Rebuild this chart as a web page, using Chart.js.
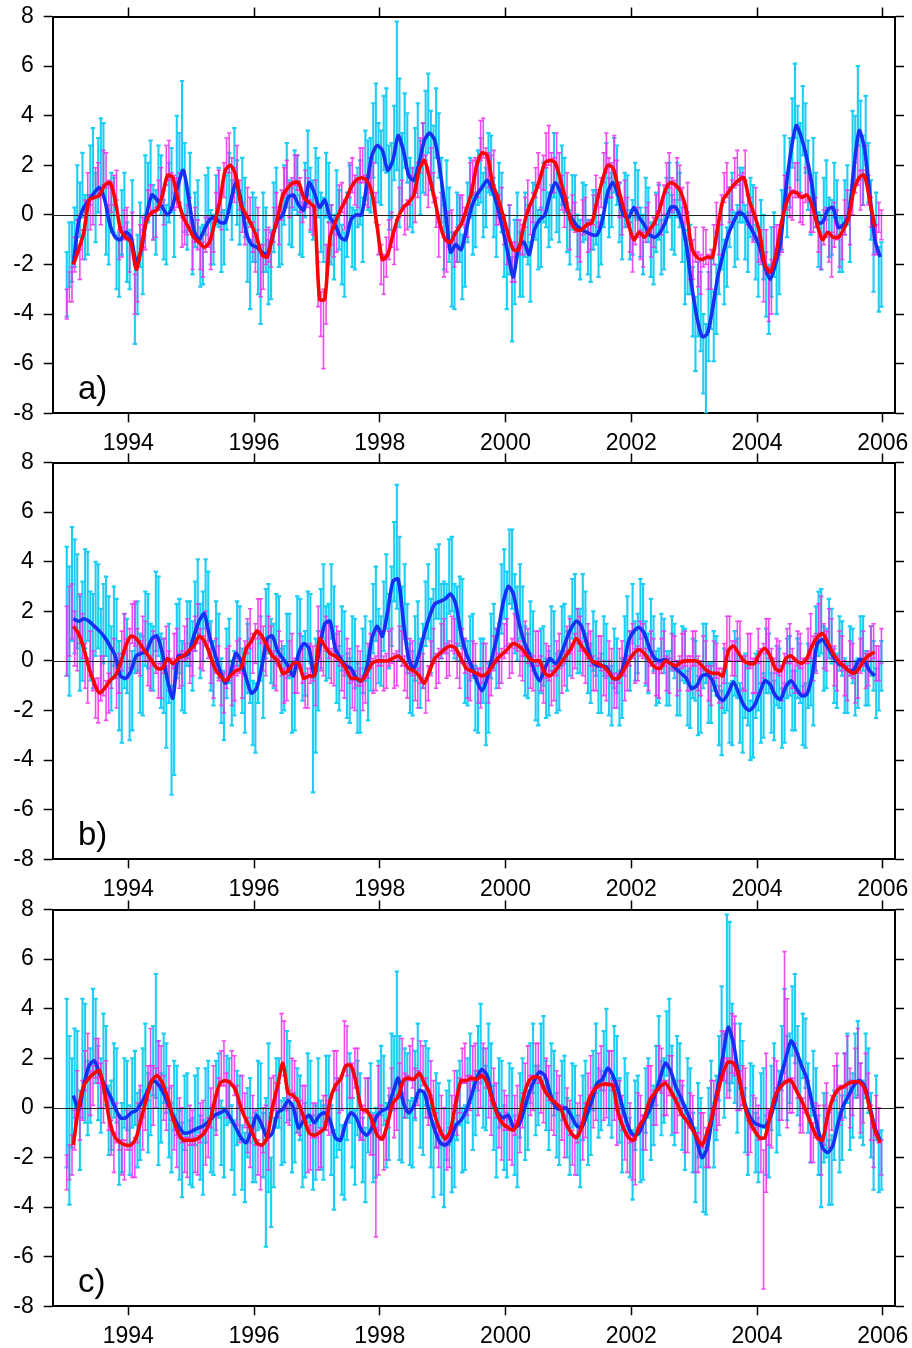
<!DOCTYPE html>
<html>
<head>
<meta charset="utf-8">
<script src="https://cdn.jsdelivr.net/npm/chart.js@4.4.1/dist/chart.umd.min.js"></script>
<style>
  body { margin: 0; background: #fff; }
  canvas { position: absolute; left: 0; }
</style>
</head>
<body>
<canvas id="pa" width="912" height="462" style="top:0px"></canvas>
<canvas id="pb" width="912" height="462" style="top:446px"></canvas>
<canvas id="pc" width="912" height="455" style="top:893px"></canvas>
<script>
// values per month, Jan 1993 .. Dec 2005 (12 per row).
// noisy series: "A" = first half of the month, "B" = second half
const tickYears = [1994, 1996, 1998, 2000, 2002, 2004, 2006];
const yTicks = [-8, -6, -4, -2, 0, 2, 4, 6, 8];

// ---- panel a ----
const aBlue = [
  null,-2.0,-0.3,0.3,0.6,0.9,1.1,0.6,-0.4,-0.9,-1.0,-0.7,
  -0.9,-1.9,-1.4,0.0,0.8,0.6,0.3,0.0,0.4,1.2,1.8,0.7,
  -0.6,-1.0,-0.6,-0.2,-0.1,-0.3,-0.3,0.5,1.3,0.6,-0.7,-1.2,
  -1.3,-1.5,-1.6,-0.9,-0.2,0.0,0.7,0.8,0.4,0.2,1.3,0.9,
  0.3,0.6,-0.1,-0.4,-0.9,-1.0,-0.2,0.0,0.0,1.2,2.4,2.8,
  2.6,1.8,2.2,3.2,2.6,1.6,1.4,2.1,3.0,3.3,3.0,1.8,
  0.2,-1.5,-1.2,-1.4,-0.6,0.3,0.8,1.1,1.4,1.0,0.3,-0.6,
  -1.6,-2.5,-1.3,-1.1,-1.6,-0.6,-0.2,0.0,0.8,1.3,0.9,0.3,
  -0.1,-0.4,-0.6,-0.7,-0.8,-0.8,-0.2,0.9,1.3,0.8,0.0,-0.1,
  0.3,-0.1,-0.4,-0.8,-0.9,-0.7,-0.3,0.3,0.3,-0.2,-1.2,-2.8,
  -4.1,-4.9,-4.8,-3.8,-2.5,-1.6,-0.8,-0.3,0.1,0.0,-0.4,-0.8,
  -1.3,-2.1,-2.6,-2.0,-1.1,1.0,2.6,3.6,3.1,2.3,1.2,-0.3,
  -0.3,0.2,0.3,-0.5,-0.4,0.0,1.9,3.4,2.7,0.9,-1.0,-1.7];
const aRed = [
  null,-2.0,-1.4,-0.7,0.6,0.7,0.8,1.2,1.3,0.6,-0.6,-0.9,
  -1.1,-2.2,-1.3,-0.2,0.1,0.2,0.8,1.6,1.5,0.6,-0.1,-0.5,
  -0.9,-1.1,-1.3,-1.1,-0.3,0.6,1.8,2.0,1.6,0.4,0.0,-0.4,
  -0.9,-1.6,-1.7,-0.9,-0.1,0.8,1.1,1.3,1.3,0.7,0.5,0.3,
  -3.4,-3.4,-0.9,-0.3,0.2,0.6,1.1,1.4,1.5,1.4,0.9,-0.5,
  -1.8,-1.6,-0.8,-0.1,0.3,0.5,0.8,1.8,2.2,1.5,0.6,-0.4,
  -1.0,-1.1,-0.7,-0.4,0.2,0.9,2.0,2.5,2.4,1.3,0.7,0.0,
  -0.8,-1.4,-1.4,-0.4,0.3,0.8,1.4,2.1,2.2,2.1,1.4,0.6,
  -0.3,-0.6,-0.6,-0.4,-0.3,0.6,1.4,2.0,1.9,1.1,0.3,-0.4,
  -1.0,-0.7,-0.9,-0.6,-0.3,0.3,1.0,1.3,1.2,0.9,0.2,-1.3,
  -1.7,-1.8,-1.7,-1.7,-0.5,0.6,0.9,1.2,1.4,1.5,0.6,0.0,
  -0.7,-2.0,-2.3,-1.7,-0.5,0.4,0.9,0.9,0.7,0.8,0.4,-0.4,
  -1.0,-0.7,-0.9,-0.9,-0.6,-0.1,1.0,1.5,1.6,0.6,-0.5,null];
const aCyanA = [
  -2.8,-1.5,0.9,1.2,-0.4,2.1,1.6,2.3,-0.8,0.4,-2.0,0.5,
  -1.8,-3.6,-0.8,1.2,1.9,-0.3,1.2,-0.8,1.4,2.6,3.6,-0.2,
  -1.3,0.2,-1.6,0.8,-1.0,0.7,-0.9,1.3,2.2,-0.1,0.3,-2.4,
  -0.6,-2.8,-1.0,-2.0,0.7,-0.8,1.6,-0.1,1.2,-0.6,2.1,0.2,
  1.1,-0.6,0.9,-1.3,-0.2,-2.0,0.8,-1.0,0.9,2.0,1.6,3.7,
  1.9,3.4,1.4,4.8,1.8,2.7,0.6,3.0,2.3,4.1,2.2,2.8,
  -0.9,-0.4,-2.4,-0.6,-1.7,1.1,-0.2,1.8,0.7,2.0,-0.6,0.5,
  -2.4,-3.4,-0.4,-2.0,-0.8,0.2,-1.0,0.9,-0.2,2.0,0.1,1.2,
  -0.9,0.5,-1.4,0.1,-1.5,-0.1,-1.0,1.7,0.6,1.6,-0.7,0.6,
  -0.5,0.8,-1.2,0.0,-1.6,0.1,-1.1,1.0,-0.5,0.6,-2.3,-1.8,
  -4.8,-3.9,-6.2,-3.2,-3.4,-0.9,-1.7,0.6,-0.7,0.8,-1.1,0.1,
  -2.1,-1.3,-3.4,-1.2,-2.0,1.9,1.7,4.6,2.3,3.1,0.4,0.6,
  -1.1,1.0,-0.5,0.3,-1.2,0.8,2.8,4.4,1.8,1.7,-1.9,-2.6];
const aCyanB = [
  -1.6,-0.9,0.2,-0.5,1.6,0.3,2.4,-0.2,0.5,-1.9,-0.3,-1.5,
  0.2,-2.4,-1.9,0.9,0.1,1.5,-0.6,0.9,-0.4,1.9,1.1,1.3,
  -0.2,-1.7,0.4,-0.9,0.6,-1.1,0.5,0.2,0.9,1.2,-1.5,-0.5,
  -1.9,-0.7,-2.3,-0.1,-0.9,0.8,0.1,1.4,-0.4,1.0,0.6,1.5,
  -0.3,1.2,-0.8,0.5,-1.6,-0.4,-0.9,0.7,-0.6,1.6,3.0,2.1,
  3.3,1.1,2.9,2.5,3.4,0.9,2.2,1.5,3.6,2.6,3.7,1.0,
  0.9,-2.2,-0.5,-2.1,0.1,-0.4,1.5,0.4,2.1,0.3,1.0,-1.3,
  -1.0,-1.9,-2.0,-0.4,-2.3,0.1,-0.9,0.7,0.1,0.6,1.6,-0.4,
  0.5,-1.1,0.1,-1.3,-0.2,-1.4,0.5,0.3,2.0,0.1,0.6,-0.8,
  1.0,-0.7,0.3,-1.4,-0.3,-1.3,0.4,-0.3,1.0,-0.8,-1.9,-3.5,
  -3.4,-5.6,-4.1,-4.5,-1.8,-2.3,-0.1,-1.0,0.8,-0.7,0.3,-1.5,
  -0.6,-2.8,-1.9,-2.7,-0.2,0.4,3.3,2.9,3.8,1.6,1.9,-1.0,
  0.4,-0.5,1.0,-1.2,0.3,-0.7,2.6,3.0,3.4,0.2,-0.3,-2.4];
const aCyanErr = [
  1.3,1.2,1.1,1.3,1.2,1.4,1.5,1.4,1.2,1.1,1.3,1.2,
  1.2,1.6,1.3,1.2,1.1,1.3,1.2,1.2,1.3,1.4,1.8,1.2,
  1.1,1.2,1.2,1.1,1.0,1.2,1.1,1.2,1.3,1.1,1.2,1.4,
  1.3,1.6,1.3,1.4,1.2,1.2,1.3,1.2,1.2,1.1,1.3,1.2,
  1.2,1.3,1.2,1.3,1.2,1.3,1.2,1.2,1.3,1.4,1.5,1.6,
  1.5,1.7,1.5,3.0,1.5,1.4,1.3,1.5,1.4,1.6,1.4,1.3,
  1.3,1.5,1.4,1.3,1.2,1.2,1.1,1.3,1.2,1.2,1.1,1.2,
  1.4,1.7,1.3,1.3,1.2,1.1,1.2,1.2,1.1,1.3,1.2,1.1,
  1.1,1.1,1.2,1.1,1.2,1.1,1.0,1.2,1.1,1.2,1.1,1.0,
  1.1,1.0,1.2,1.1,1.2,1.1,1.1,1.1,1.1,1.1,1.3,1.4,
  1.5,1.6,1.8,1.4,1.4,1.3,1.2,1.1,1.1,1.1,1.2,1.1,
  1.2,1.3,1.4,1.3,1.2,1.3,1.4,1.5,1.4,1.4,1.2,1.1,
  1.1,1.2,1.1,1.1,1.1,1.2,1.4,1.6,1.4,1.2,1.2,1.3];
const aMagA = [
  -3.6,-2.8,-0.8,-1.2,1.0,0.2,1.4,1.9,0.8,1.0,-1.2,-0.4,
  -1.6,-3.2,-1.0,-0.8,0.6,-0.3,1.2,2.0,1.0,0.9,-0.7,-0.2,
  -1.5,-0.8,-1.8,-0.7,-0.9,1.1,1.4,2.5,1.2,0.8,-0.6,0.1,
  -1.6,-2.4,-1.3,-1.4,0.3,0.4,1.5,0.9,1.7,0.3,0.9,-0.2,
  -2.8,-4.6,-1.1,-1.0,0.6,0.0,1.4,1.0,2.0,1.0,1.6,0.3,
  -2.0,-1.7,-0.6,-0.8,0.8,0.0,1.3,1.4,2.9,1.0,1.1,-1.0,
  -1.7,-0.6,-1.4,0.2,-0.3,1.4,1.6,3.0,2.0,1.7,0.2,0.5,
  -1.3,-1.9,-0.9,-1.0,0.8,0.3,1.8,1.7,2.8,1.6,1.8,0.1,
  -0.8,-0.1,-1.2,0.1,-0.8,1.0,0.9,2.5,1.4,1.5,-0.2,0.1,
  -1.6,-0.3,-1.4,-0.1,-0.7,0.7,0.6,1.8,0.8,1.3,-0.3,-1.8,
  -1.2,-2.4,-1.3,-2.2,-0.1,0.2,1.4,0.8,1.9,1.1,0.2,-0.5,
  -1.2,-2.6,-3.2,-1.2,-1.0,0.9,0.5,1.4,0.3,1.2,-0.1,0.1,
  -1.5,-0.3,-1.6,-0.4,-1.1,0.4,0.6,2.0,1.1,1.0,-1.0,-0.1];
const aMagB = [
  -2.9,-1.6,-2.0,0.0,0.1,1.3,0.3,1.8,0.7,1.2,-1.1,-0.3,
  -0.6,-2.7,-0.7,0.4,-0.4,0.8,0.3,2.2,0.9,1.1,-0.6,0.1,
  -0.4,-1.6,-0.8,-1.6,0.3,0.1,2.4,1.5,2.1,-0.1,0.5,-0.9,
  -0.4,-2.1,-1.2,-0.4,-0.6,1.3,0.6,1.8,0.8,1.2,0.0,0.8,
  -4.0,-2.8,-0.4,-0.8,0.7,0.1,1.6,0.9,2.0,0.9,1.4,-1.0,
  -2.4,-1.0,-1.3,0.5,-0.2,1.0,0.3,2.4,1.6,2.0,0.1,0.2,
  -1.5,-0.5,-1.2,0.2,-0.3,1.5,1.4,3.1,1.8,1.9,0.2,-0.6,
  -0.3,-1.9,-0.9,0.1,-0.2,1.3,0.9,2.6,1.7,2.6,0.9,1.1,
  0.2,-1.1,-0.1,-0.9,0.2,0.1,1.9,1.5,2.5,0.6,0.8,-0.9,
  -0.5,-1.2,-0.4,-1.1,0.2,-0.2,1.5,0.8,1.7,0.4,0.7,-1.8,
  -2.2,-1.3,-2.3,-1.2,-1.0,1.1,0.4,1.7,0.9,2.0,0.1,0.5,
  -1.3,-1.5,-2.9,-1.1,-0.9,0.9,0.4,1.4,0.2,1.3,-0.1,-0.9,
  -0.5,-1.3,-0.4,-1.5,-0.1,-0.6,1.5,1.0,2.1,0.1,-1.0,-0.4];
const aMagErr = [
  0.6,0.7,0.6,0.6,0.7,0.6,0.7,0.7,0.6,0.6,0.6,0.6,
  0.7,0.8,0.6,0.6,0.6,0.6,0.7,0.8,0.7,0.6,0.6,0.6,
  0.7,0.6,0.7,0.6,0.6,0.7,0.7,0.8,0.7,0.6,0.6,0.6,
  0.7,0.9,0.7,0.7,0.6,0.6,0.7,0.6,0.7,0.6,0.6,0.6,
  0.9,1.6,0.8,0.7,0.6,0.6,0.7,0.6,0.7,0.6,0.7,0.6,
  0.8,0.8,0.7,0.6,0.6,0.6,0.6,0.7,0.8,0.7,0.6,0.7,
  0.8,0.7,0.7,0.6,0.6,0.7,0.7,0.8,0.7,0.7,0.6,0.6,
  0.7,0.8,0.7,0.6,0.6,0.6,0.7,0.7,0.8,0.7,0.7,0.6,
  0.6,0.6,0.7,0.6,0.6,0.6,0.6,0.8,0.7,0.7,0.6,0.6,
  0.7,0.6,0.7,0.6,0.6,0.6,0.6,0.7,0.6,0.7,0.6,0.8,
  0.7,0.8,0.7,0.8,0.6,0.6,0.7,0.6,0.7,0.6,0.6,0.6,
  0.7,0.9,1.1,0.7,0.6,0.7,0.6,0.7,0.6,0.7,0.6,0.6,
  0.7,0.6,0.9,0.6,0.7,0.6,0.6,0.8,0.7,0.6,0.6,0.6];

// ---- panel b ----
const bBlue = [
  null,1.7,1.6,1.7,1.6,1.4,1.2,0.95,0.6,0.2,-0.6,-0.7,
  -0.4,0.2,0.3,0.4,0.9,1.0,0.3,-0.8,-1.5,0.2,0.2,0.3,
  1.0,1.6,1.9,1.0,0.3,-0.4,-0.9,-0.5,0.3,0.0,-0.7,-1.3,
  -1.1,-0.2,0.9,1.0,0.4,0.1,-0.2,-0.6,0.3,0.7,0.5,-0.6,
  0.5,1.5,1.6,0.5,0.1,-0.2,-0.3,-0.7,-0.8,-0.3,0.9,1.4,
  1.0,2.0,3.2,3.3,1.6,0.1,-0.3,0.3,1.1,1.8,2.3,2.4,
  2.5,2.7,2.3,1.1,0.3,-0.2,-0.8,-1.2,-0.7,0.2,1.1,2.3,
  3.0,2.7,1.6,0.8,0.3,-0.4,-0.8,-0.3,0.1,-0.1,0.2,0.8,
  1.3,1.6,1.4,0.7,0.0,-0.2,-0.2,-0.3,-0.7,-0.7,-0.2,0.8,
  1.2,1.35,1.1,0.5,0.1,0.0,0.05,-0.1,-0.3,-0.5,-0.7,-1.1,
  -1.0,-0.6,-0.55,-0.8,-1.4,-1.6,-1.3,-0.85,-1.3,-1.8,-2.0,-1.8,
  -1.3,-0.8,-0.95,-1.4,-1.55,-1.05,-0.8,-1.1,-1.4,-1.35,-0.6,0.7,
  0.85,0.55,0.2,-0.1,-0.2,-0.4,-0.35,0.05,0.0,-0.4,-0.6,null];
const bRed = [
  null,1.4,1.1,0.5,-0.3,-0.9,-1.3,-1.1,-0.8,-0.6,-0.1,0.6,
  1.0,0.9,0.6,0.3,0.0,-0.3,-0.3,0.1,-0.1,0.1,0.2,0.4,
  0.6,1.0,0.8,0.3,-0.3,-0.6,-0.8,-0.6,-0.4,-0.3,0.5,0.8,
  1.2,1.0,0.6,0.2,0.0,-0.5,-0.4,-0.1,-0.1,-0.7,-0.6,-0.6,
  0.9,0.6,0.3,0.2,0.0,-0.3,-0.7,-0.7,-0.8,-0.5,-0.1,0.0,
  0.0,0.0,0.1,0.2,0.0,-0.3,-0.4,-0.6,-0.9,-0.4,0.1,0.3,
  0.5,0.6,0.5,0.1,-0.3,-0.4,-0.5,-0.6,-0.5,-0.2,0.1,0.3,
  0.5,0.7,0.6,0.4,0.1,0.0,0.0,-0.5,-0.6,-0.4,-0.1,0.2,
  0.5,0.9,0.6,0.3,0.0,-0.1,-0.2,-0.4,-0.7,-0.7,-0.4,0.0,
  0.3,0.45,0.3,0.0,-0.25,-0.3,0.0,-0.1,-0.2,-0.05,0.0,0.0,
  0.0,-0.2,-0.4,-0.5,-0.5,-0.6,0.4,0.6,0.3,0.0,-0.1,-0.1,
  0.3,0.5,0.2,-0.3,-0.4,0.1,0.2,0.0,-0.1,0.1,0.6,0.95,
  1.1,0.75,0.3,0.0,-0.2,-0.4,-0.5,-0.3,0.05,0.25,0.35,null];
const bCyanA = [
  2.0,3.1,2.4,1.2,2.6,0.8,2.2,1.5,0.9,1.4,-1.0,0.4,
  -1.6,0.9,-0.5,1.3,0.2,2.0,-0.4,-1.9,-3.2,0.8,-0.6,1.1,
  0.2,2.6,1.4,2.2,-0.5,0.6,-1.8,0.4,-0.9,0.9,-1.5,-0.4,
  -2.3,0.5,1.5,0.4,1.3,-0.8,0.6,-1.5,1.2,-0.3,1.4,-3.0,
  -0.4,2.4,0.8,1.6,-0.7,0.7,-1.2,0.3,-1.6,0.5,0.2,2.3,
  0.4,2.8,2.2,4.6,1.5,0.9,-0.9,1.0,0.2,2.4,1.5,3.2,
  1.8,3.4,1.6,2.0,-0.4,0.5,-1.5,-0.4,-2.0,0.6,0.1,2.5,
  2.1,3.7,1.5,1.6,-0.2,0.8,-1.3,0.2,-0.9,0.8,-0.8,1.1,
  0.6,2.2,0.8,1.6,-0.5,0.5,-0.9,0.4,-1.4,-0.2,-1.1,1.4,
  1.9,0.7,1.8,-0.1,0.7,-0.6,0.6,-0.7,0.4,-1.1,0.2,-1.5,
  -0.4,-1.6,0.3,-1.3,-0.2,-2.5,-0.8,-2.1,-0.3,-2.4,-1.4,-2.6,
  -0.8,-1.8,-0.1,-2.0,-0.7,-2.1,-0.2,-1.6,-0.5,-2.2,-0.6,0.9,
  1.6,0.1,1.0,-0.8,0.5,-1.1,0.2,-0.9,0.7,-0.8,-0.2,-1.0];
const bCyanB = [
  1.2,2.6,0.7,2.5,1.0,2.1,0.4,1.8,-0.3,0.9,-1.5,0.2,
  -1.2,1.0,-0.6,1.2,0.1,1.8,-0.6,-0.1,-2.4,1.0,-0.7,1.1,
  1.8,0.8,2.7,0.2,1.1,-1.2,-0.1,-1.3,1.1,-0.8,0.1,-2.1,
  -0.3,-1.0,1.7,0.2,1.2,-0.7,0.6,-1.4,1.1,-0.1,1.3,-1.4,
  1.3,0.7,2.4,-0.3,0.9,-1.0,0.5,-1.5,0.0,-1.1,1.7,0.6,
  1.8,1.2,4.0,2.5,2.4,-0.7,0.5,-0.5,1.9,1.0,3.1,1.6,
  1.7,3.5,1.5,1.9,-0.5,0.6,-1.6,-0.4,-1.5,1.0,0.3,3.1,
  3.8,1.9,2.4,0.0,1.1,-1.2,0.0,-1.1,0.9,-0.9,1.0,0.0,
  2.1,0.8,2.2,-0.1,0.8,-1.0,0.6,-1.1,0.1,-1.5,0.6,0.0,
  0.4,2.1,0.3,1.3,-0.7,0.8,-0.7,0.7,-1.1,0.3,-1.5,-0.3,
  -1.8,0.2,-1.3,0.0,-2.2,-0.8,-2.1,-0.1,-2.1,-1.0,-2.8,-1.0,
  -2.1,0.0,-1.7,-0.6,-2.3,-0.3,-1.6,-0.3,-2.2,-0.6,-1.4,1.5,
  0.1,1.3,-0.6,0.7,-1.0,0.4,-1.1,0.8,-0.7,0.4,-1.3,-0.2];
const bCyanErr = [
  2.6,2.3,1.9,2.0,1.8,1.9,1.7,1.6,1.7,1.6,1.8,1.5,
  1.6,1.4,1.6,1.5,1.3,1.6,1.5,1.6,2.2,1.5,1.4,1.3,
  1.4,1.5,1.4,1.4,1.3,1.3,1.4,1.3,1.3,1.3,1.4,1.3,
  1.4,1.3,1.4,1.3,1.4,1.3,1.3,1.4,1.4,1.3,1.4,2.3,
  1.6,1.5,1.5,1.4,1.3,1.3,1.3,1.4,1.3,1.3,1.4,1.5,
  1.4,1.5,1.6,2.5,1.5,1.4,1.3,1.4,1.3,1.5,1.4,1.5,
  1.4,1.5,1.5,1.4,1.3,1.3,1.3,1.3,1.4,1.3,1.2,1.4,
  1.5,1.6,1.5,1.4,1.3,1.2,1.3,1.2,1.3,1.2,1.2,1.2,
  1.2,1.3,1.3,1.2,1.2,1.1,1.2,1.1,1.2,1.1,1.2,1.2,
  1.2,1.2,1.3,1.2,1.1,1.1,1.1,1.1,1.1,1.1,1.1,1.2,
  1.2,1.3,1.2,1.2,1.2,1.3,1.2,1.3,1.2,1.3,1.2,1.3,
  1.2,1.3,1.2,1.2,1.2,1.2,1.2,1.2,1.2,1.3,1.2,1.3,
  1.3,1.2,1.1,1.1,1.1,1.0,1.1,1.0,1.1,1.0,1.0,1.0];
const bMagA = [
  0.8,2.0,0.6,1.0,-0.8,-0.4,-1.6,-0.6,-1.3,0.1,-0.5,1.1,
  0.5,1.5,0.1,0.8,-0.5,0.2,-0.8,0.6,-0.6,0.6,-0.3,0.9,
  0.1,1.5,0.3,0.8,-0.8,-0.1,-1.3,-0.1,-0.9,0.2,0.1,1.3,
  0.7,1.6,0.1,0.7,-0.5,0.1,-0.9,0.4,-0.6,-0.2,-1.1,-0.1,
  1.4,0.1,0.8,-0.3,0.5,-0.8,-0.2,-1.2,-0.3,-1.0,0.4,-0.5,
  0.5,-0.4,0.6,-0.3,0.5,-0.8,0.1,-1.1,-0.4,-0.9,0.6,-0.2,
  1.0,0.1,1.0,-0.4,0.2,-0.9,0.0,-1.1,0.0,-0.7,0.6,-0.2,
  1.0,0.2,1.1,-0.1,0.6,-0.5,0.5,-1.0,-0.1,-0.9,0.4,-0.3,
  1.0,0.4,1.1,-0.2,0.5,-0.6,0.3,-0.9,-0.2,-1.2,0.1,-0.5,
  0.8,-0.1,0.8,-0.5,0.2,-0.8,0.5,-0.6,0.3,-0.5,0.5,-0.5,
  0.5,-0.7,0.1,-1.0,0.0,-1.1,0.9,0.1,0.8,-0.5,0.4,-0.6,
  0.6,0.0,0.9,-0.6,0.1,-0.4,0.7,-0.6,0.4,-0.6,1.0,0.3,
  1.7,0.4,0.9,-0.5,0.3,-0.9,0.0,-0.8,0.5,-0.3,0.8,-0.1];
const bMagB = [
  1.6,0.9,1.7,-0.2,0.3,-1.5,-0.7,-1.6,-0.3,-1.1,0.4,0.1,
  1.5,0.4,1.1,-0.2,0.5,-0.8,0.2,-0.4,0.4,-0.4,0.7,-0.1,
  1.1,0.5,1.3,-0.2,0.2,-1.1,-0.3,-1.1,0.1,-0.8,1.0,0.3,
  1.7,0.5,1.1,-0.3,0.5,-1.0,0.1,-0.6,0.4,-1.2,-0.1,-1.1,
  0.4,1.1,-0.2,0.7,-0.5,0.2,-1.2,-0.2,-1.3,0.0,-0.6,0.5,
  -0.5,0.5,-0.4,0.7,-0.5,0.2,-0.9,-0.1,-1.4,0.1,-0.4,0.8,
  0.0,1.1,0.0,0.6,-0.8,0.1,-1.0,-0.1,-1.0,0.3,-0.4,0.8,
  0.0,1.2,0.1,0.9,-0.4,0.5,-0.5,0.0,-1.1,0.1,-0.6,0.7,
  0.0,1.4,0.1,0.8,-0.5,0.4,-0.7,0.1,-1.2,-0.2,-0.9,0.5,
  -0.2,0.9,-0.2,0.5,-0.7,0.2,-0.5,0.4,-0.7,0.4,-0.5,0.5,
  -0.5,0.3,-0.9,0.0,-1.0,-0.1,0.9,0.1,0.8,-0.5,0.4,-0.6,
  -0.2,1.0,-0.3,0.2,-0.9,0.6,-0.3,0.5,-0.6,0.6,0.1,1.5,
  0.6,1.3,-0.2,0.5,-0.7,0.1,-1.0,0.2,-0.4,0.7,-0.1,0.6];
const bMagErr = [
  1.4,1.1,1.0,0.9,0.9,0.8,0.9,0.8,0.8,0.8,0.8,0.8,
  0.8,0.9,0.7,0.8,0.7,0.7,0.7,0.8,0.7,0.7,0.7,0.8,
  0.7,0.8,0.7,0.7,0.7,0.7,0.8,0.7,0.7,0.7,0.7,0.8,
  0.8,0.9,0.7,0.7,0.7,0.7,0.7,0.7,0.7,0.7,0.8,0.7,
  0.8,0.7,0.7,0.7,0.7,0.7,0.7,0.8,0.7,0.7,0.7,0.7,
  0.7,0.7,0.7,0.7,0.7,0.7,0.7,0.8,0.7,0.7,0.7,0.7,
  0.7,0.7,0.7,0.7,0.7,0.7,0.7,0.8,0.7,0.7,0.7,0.7,
  0.7,0.7,0.7,0.7,0.7,0.7,0.7,0.7,0.7,0.7,0.7,0.7,
  0.7,0.7,0.7,0.7,0.7,0.6,0.7,0.7,0.7,0.7,0.7,0.7,
  0.7,0.7,0.7,0.7,0.7,0.7,0.7,0.7,0.7,0.7,0.7,0.7,
  0.7,0.7,0.7,0.8,0.7,0.8,0.9,0.7,0.8,0.7,0.7,0.7,
  0.7,0.7,0.8,0.7,0.7,0.7,0.8,0.7,0.7,0.7,0.9,0.8,
  0.9,0.8,0.8,0.7,0.7,0.7,0.7,0.7,0.7,0.7,0.7,0.7];

// ---- panel c ----
const cBlue = [
  null,0.5,-0.1,0.9,1.7,1.9,1.4,0.9,0.5,0.0,-0.4,-0.4,
  -0.2,-0.1,0.2,0.6,1.1,1.0,0.7,0.2,-0.3,-0.7,-1.0,-1.0,
  -0.9,-0.8,-0.7,-0.5,-0.3,-0.2,-0.1,-0.4,-0.8,-1.2,-1.4,-0.9,
  -0.3,-0.7,-1.2,-1.0,-0.2,-0.05,0.3,0.0,-0.8,-0.5,-0.3,-0.6,
  -0.3,-0.2,-0.5,-1.2,-1.3,-0.6,-0.2,-0.4,-0.9,-1.1,-0.8,-0.3,
  -0.1,0.0,0.6,1.2,0.2,-0.2,0.1,0.7,0.6,-0.2,-0.9,-1.4,
  -1.5,-1.3,-0.7,-0.5,-0.1,0.5,1.2,1.55,1.3,0.4,-0.2,-0.4,
  -0.3,-0.75,-0.7,-0.1,0.6,1.1,1.45,1.3,0.6,0.05,-0.05,0.0,
  -0.3,-0.7,-0.8,-0.3,0.3,1.0,1.15,1.6,1.3,0.7,-0.1,-0.8,
  -1.1,-1.0,-0.5,-0.1,0.5,1.2,1.8,1.5,0.85,0.4,-0.1,-0.6,
  -1.3,-2.0,-1.6,-0.3,0.8,2.1,3.25,2.6,1.3,0.3,-0.3,-0.6,
  -0.7,-0.75,-0.4,0.3,1.2,2.0,2.7,2.3,1.7,1.2,0.2,-0.7,
  -1.6,-1.8,-1.5,-0.6,0.1,0.5,0.9,1.1,0.9,0.1,-0.8,-1.3];
const cRed = [
  null,-1.5,0.0,0.9,1.2,1.4,1.5,0.6,-0.6,-1.2,-1.4,-1.5,
  -1.5,-1.2,-0.4,0.4,1.1,1.3,1.0,0.4,-0.4,-1.0,-1.3,-1.3,
  -1.3,-1.2,-1.0,-0.6,0.3,1.0,1.1,1.0,0.7,0.0,-0.5,-0.9,
  -1.4,-1.5,-1.2,0.0,0.9,1.8,0.6,0.5,0.2,-0.4,-1.0,-1.1,
  -1.0,-0.8,0.3,0.9,1.15,1.7,1.7,1.0,-0.05,-0.1,-0.5,-1.1,
  -1.25,-0.6,0.2,0.45,1.1,1.2,1.15,1.4,1.0,0.6,-0.3,-0.9,
  -1.25,-0.9,0.2,1.1,1.1,1.2,1.15,1.3,1.0,0.3,-0.3,-0.65,
  -0.8,-0.9,-0.5,0.5,1.1,1.25,1.2,0.7,0.4,0.2,0.0,-0.6,
  -1.0,-1.2,-0.8,0.1,0.6,0.85,0.95,0.95,0.9,-0.2,-0.8,-1.2,
  -1.3,-0.75,-0.4,0.3,0.6,0.85,1.0,0.7,0.3,-0.2,-0.5,-0.8,
  -1.2,-1.5,-1.0,-0.25,0.6,1.4,1.85,1.8,1.3,0.2,-0.5,-0.9,
  -1.2,-1.2,-0.3,0.5,0.85,1.05,1.1,0.7,0.3,-0.2,-0.75,-1.2,
  -1.3,-0.3,0.4,0.75,0.85,1.0,1.05,1.05,0.8,0.0,-0.9,-1.4];
const cCyanA = [
  1.0,0.2,1.5,2.0,0.4,3.1,1.0,2.2,-0.5,1.1,-1.7,0.6,
  -1.3,0.8,-0.7,1.8,0.3,2.9,0.0,1.2,-1.2,0.3,-2.1,0.1,
  -1.8,0.3,-2.0,0.6,-1.3,0.9,-1.4,0.7,-2.0,0.0,-2.4,-0.1,
  -1.6,0.5,-2.6,-3.4,0.6,-1.0,1.5,-1.2,0.3,-1.7,0.8,-1.8,
  0.6,-1.4,0.7,-2.5,-0.3,-2.2,0.8,-1.6,0.1,-2.3,0.4,-1.4,
  1.1,-1.1,1.5,3.0,-0.8,0.9,-1.0,1.9,-0.6,1.0,-2.1,-0.3,
  -2.6,-0.2,-1.8,0.6,-1.2,1.6,0.2,2.6,0.4,1.3,-1.4,0.6,
  -1.5,0.4,-1.9,0.8,-0.5,2.0,0.5,2.3,-0.5,1.0,-1.1,0.9,
  -1.4,0.5,-1.9,0.7,-0.7,2.0,0.3,2.5,0.0,1.6,-1.3,0.2,
  -2.3,0.1,-1.6,0.8,-0.3,2.2,0.7,2.6,-0.2,1.3,-1.2,0.4,
  -2.3,-1.0,-2.7,0.6,0.0,3.2,4.4,2.6,0.3,1.4,-1.4,0.5,
  -1.7,0.4,-1.5,1.3,0.2,3.1,1.6,3.6,0.6,2.2,-0.9,0.4,
  -2.6,-0.7,-2.5,0.5,-0.8,1.6,0.1,2.0,-0.2,1.1,-2.0,-2.2];
const cCyanB = [
  -0.5,1.4,-0.9,1.8,0.9,2.7,0.5,1.7,-0.3,0.9,-1.2,0.5,
  0.6,-0.9,1.0,-0.2,1.9,0.2,1.6,-0.6,0.5,-1.5,-0.2,-1.8,
  -0.1,-1.6,0.1,-1.3,0.5,-1.0,0.7,-1.2,0.0,-2.0,-0.6,-1.7,
  0.5,-1.5,-0.4,-1.8,0.6,-0.9,1.1,-0.8,0.0,-1.3,0.5,-1.4,
  -1.1,0.6,-1.3,-0.4,-2.1,0.2,-1.0,0.4,-1.7,-0.3,-1.6,0.5,
  0.7,-0.8,1.4,0.4,1.0,-1.0,0.9,-0.1,1.4,-1.0,-0.1,-2.2,
  -0.7,-2.1,0.1,-1.3,0.7,-0.3,2.0,0.8,2.1,-0.4,0.6,-1.2,
  0.5,-1.5,0.1,-0.9,1.4,0.3,2.2,0.5,1.4,-0.7,0.7,-0.8,
  0.5,-1.5,0.0,-1.1,1.1,0.2,1.9,0.8,2.1,-0.1,0.7,-1.6,
  -0.3,-1.8,0.3,-0.9,1.3,0.4,2.6,0.7,1.6,-0.4,0.7,-1.4,
  -0.5,-2.8,-0.8,-1.1,1.6,1.3,4.1,1.8,2.1,-0.5,0.5,-1.4,
  0.1,-1.5,0.4,-0.5,2.0,1.2,3.5,1.5,2.5,0.4,1.0,-1.5,
  -0.8,-2.6,-0.7,-1.4,0.9,-0.3,1.7,0.3,1.7,-0.7,0.0,-2.1];
const cCyanErr = [
  3.4,1.8,1.6,2.4,1.5,1.7,1.5,1.6,1.4,1.5,1.4,1.4,
  1.4,1.5,1.4,1.6,1.4,2.5,1.4,1.4,1.4,1.4,1.5,1.3,
  1.4,1.3,1.5,1.3,1.4,1.3,1.4,1.3,1.5,1.3,1.4,1.3,
  1.4,1.3,3.0,1.4,1.4,1.3,1.6,1.4,1.3,1.5,1.4,1.5,
  1.4,1.5,1.4,1.6,1.4,1.5,1.4,1.5,1.3,1.5,1.4,1.4,
  1.4,1.3,1.5,2.5,1.4,1.3,1.4,1.5,1.3,1.4,1.5,1.3,
  1.4,1.3,1.4,1.3,1.3,1.4,1.3,1.6,1.3,1.3,1.4,1.3,
  1.3,1.2,1.3,1.2,1.2,1.4,1.2,1.4,1.2,1.3,1.2,1.2,
  1.3,1.2,1.3,1.2,1.2,1.4,1.2,1.5,1.2,1.3,1.3,1.2,
  1.4,1.2,1.3,1.2,1.2,1.5,1.3,1.8,1.3,1.3,1.3,1.2,
  1.5,1.4,1.6,1.3,1.3,1.7,3.4,1.6,1.3,1.3,1.3,1.2,
  1.3,1.2,1.3,1.3,1.3,1.7,1.4,1.8,1.3,1.4,1.3,1.2,
  1.4,1.3,1.4,1.2,1.3,1.4,1.3,1.5,1.3,1.3,1.3,1.2];
const cMagA = [
  -2.6,-1.9,0.8,0.3,2.1,0.9,1.9,0.1,-0.2,-1.8,-1.0,-2.1,
  -1.0,-2.0,0.2,-0.2,2.0,0.8,1.6,-0.2,0.2,-1.6,-0.7,-2.0,
  -0.8,-1.9,-0.4,-1.2,0.9,0.5,1.8,0.4,1.3,-0.7,-0.1,-1.6,
  -0.8,-2.4,-0.6,0.5,0.3,2.7,0.1,1.2,-0.3,0.2,-1.7,-0.5,
  -1.7,-0.2,-0.4,1.5,0.5,2.5,1.1,1.6,-0.6,0.5,-1.1,-3.0,
  -0.6,-1.3,0.8,-0.2,1.9,0.6,1.8,0.8,1.7,0.0,0.4,-1.6,
  -0.7,-1.6,0.8,0.5,1.8,0.6,1.7,0.7,1.6,-0.4,0.3,-1.3,
  -0.2,-1.5,0.2,-0.1,1.7,0.6,1.8,0.1,1.0,-0.4,0.6,-1.2,
  -0.4,-1.9,-0.2,-0.5,1.3,0.2,1.6,0.3,1.5,-0.8,-0.2,-1.8,
  -2.0,-0.1,-1.0,0.9,0.0,1.6,0.4,1.3,-0.3,0.4,-1.1,-0.1,
  -1.8,-0.9,-1.6,0.4,-0.2,2.1,1.2,2.6,0.7,0.9,-1.2,-0.2,
  -0.6,-4.5,-0.8,1.2,0.2,3.7,0.5,1.7,-0.3,0.5,-1.4,-0.5,
  -1.9,0.3,-0.2,1.4,0.2,1.7,0.4,1.8,0.2,0.7,-1.6,-0.7];
const cMagB = [
  -2.2,-0.9,-0.6,1.5,0.6,2.0,0.9,1.2,-1.2,-0.6,-2.0,-0.9,
  -2.1,-0.6,-1.0,1.0,0.5,1.9,0.4,1.0,-1.0,-0.4,-1.9,-0.7,
  -1.9,-0.6,-1.6,0.0,-0.3,1.6,0.5,1.6,0.1,0.6,-1.1,-0.3,
  -2.0,-0.9,-1.8,0.6,0.3,2.4,0.0,1.1,-0.4,0.2,-1.6,-0.5,
  -1.6,-0.2,-0.3,1.5,0.6,2.3,1.1,1.6,-0.6,0.5,-1.1,-0.5,
  -1.8,0.0,-0.4,1.1,0.5,1.8,0.6,2.0,0.4,1.2,-0.9,-0.3,
  -1.8,-0.3,-0.4,1.7,0.5,1.8,0.6,1.9,0.4,0.9,-0.9,-0.1,
  -1.4,-0.3,-1.1,1.1,0.5,1.9,0.6,1.3,-0.2,0.8,-0.6,0.0,
  -1.6,-0.6,-1.4,0.7,0.0,1.5,0.4,1.6,0.3,0.4,-1.4,-0.6,
  -2.2,-0.2,-1.0,0.9,0.0,1.5,0.4,1.3,-0.3,0.4,-1.1,-0.2,
  -1.8,-0.9,-1.6,0.4,0.0,2.1,1.2,2.5,0.7,0.8,-1.1,-0.3,
  -1.9,-0.6,-0.9,1.1,0.2,1.8,0.5,1.3,-0.3,0.4,-1.4,-0.6,
  -0.7,-0.9,1.0,0.1,1.5,0.4,1.7,0.4,1.4,-0.6,-0.3,-2.0];
const cMagErr = [
  0.7,0.8,0.7,0.8,0.9,0.8,0.9,0.7,0.7,0.8,0.7,0.8,
  0.7,0.8,0.7,0.7,1.2,0.8,0.9,0.7,0.7,0.8,0.7,0.8,
  0.7,0.8,0.7,0.8,0.8,0.7,0.9,0.7,0.8,0.7,0.7,0.8,
  0.7,0.9,0.7,0.7,0.7,1.1,0.7,0.8,0.7,0.7,0.9,0.7,
  0.8,0.7,0.7,0.8,0.7,1.0,0.7,0.8,0.7,0.7,0.8,2.2,
  0.7,0.8,0.8,0.7,0.9,0.7,1.0,0.7,0.8,0.7,0.7,0.8,
  0.7,0.8,0.7,0.7,0.8,0.7,0.9,0.7,0.8,0.7,0.7,0.8,
  0.7,0.8,0.7,0.7,0.8,0.7,0.8,0.7,0.7,0.7,0.7,0.8,
  0.7,0.8,0.7,0.7,0.8,0.7,0.9,0.7,0.8,0.7,0.7,0.8,
  0.9,0.7,0.7,0.8,0.7,0.9,0.7,0.8,0.7,0.7,0.7,0.7,
  0.8,0.7,0.8,0.7,0.7,1.0,0.8,1.2,0.8,0.8,0.7,0.7,
  0.7,2.8,0.7,0.8,0.7,2.6,0.7,0.9,0.7,0.7,0.8,0.7,
  0.8,0.7,0.7,0.8,0.7,1.2,0.7,1.4,0.8,0.7,0.8,0.7];

const FONT = '"Liberation Sans", Arial, Helvetica, sans-serif';

function monthX(i, off) { return 1993 + (i + off) / 12; }
function pts(vals, off) { return vals.map((v, i) => ({ x: monthX(i, off), y: v })); }

// error bars + zero line, drawn under the smoothed curves
const errorBars = {
  id: 'errorBars',
  beforeDatasetsDraw(chart) {
    const { ctx, chartArea: a, scales: { x, y } } = chart;
    ctx.save();
    ctx.beginPath();
    ctx.rect(a.left, a.top, a.width, a.height);
    ctx.clip();
    chart.data.datasets.slice().reverse().forEach(ds => {
      if (!ds.errs) return;
      ctx.strokeStyle = ds.barColor;
      ctx.lineWidth = ds.barWidth;
      ds.data.forEach((p, i) => {
        if (p.y === null) return;
        const e = ds.errs[i];
        const px = x.getPixelForValue(p.x);
        const lo = y.getPixelForValue(p.y - e);
        const hi = y.getPixelForValue(p.y + e);
        ctx.beginPath();
        ctx.moveTo(px, lo); ctx.lineTo(px, hi);
        ctx.moveTo(px - 2.2, lo); ctx.lineTo(px + 2.2, lo);
        ctx.moveTo(px - 2.2, hi); ctx.lineTo(px + 2.2, hi);
        ctx.stroke();
      });
    });
    const y0 = Math.round(y.getPixelForValue(0)) + 0.5;
    ctx.strokeStyle = '#222';
    ctx.lineWidth = 1;
    ctx.beginPath();
    ctx.moveTo(a.left, y0); ctx.lineTo(a.right, y0);
    ctx.stroke();
    ctx.restore();
  },
  afterDraw(chart) {
    const { ctx, chartArea: a } = chart;
    ctx.save();
    ctx.fillStyle = '#000';
    ctx.font = '33px ' + FONT;
    ctx.textBaseline = 'alphabetic';
    ctx.fillText(chart.options.plugins.panelLabel, 78, a.bottom - 14);
    ctx.restore();
  }
};

function axisX(position, showLabels, h) {
  return {
    type: 'linear', position: position, min: 1992.797, max: 2006.195,
    afterBuildTicks: s => { s.ticks = tickYears.map(v => ({ value: v })); },
    afterFit: s => { s.height = h; s.paddingLeft = 0; s.paddingRight = 0; },
    grid: { drawOnChartArea: false, drawTicks: true, tickLength: 9, tickWidth: 1.5, tickColor: '#000' },
    border: { display: true, color: '#000', width: 2 },
    ticks: { display: showLabels, color: '#000', padding: 8, maxRotation: 0, autoSkip: false,
             font: { family: FONT, size: 23 }, callback: v => String(v) }
  };
}
function axisY(position, showLabels, w) {
  return {
    type: 'linear', position: position, min: -8, max: 8,
    afterBuildTicks: s => { s.ticks = yTicks.map(v => ({ value: v })); },
    afterFit: s => { s.width = w; s.paddingTop = 0; s.paddingBottom = 0; },
    grid: { drawOnChartArea: false, drawTicks: true, tickLength: 9, tickWidth: 1.5, tickColor: '#000' },
    border: { display: true, color: '#000', width: 2 },
    ticks: { display: showLabels, color: '#000', padding: 10,
             font: { family: FONT, size: 23 }, callback: v => String(v) }
  };
}

function makePanel(id, label, cyanA, cyanB, cyanErr, magA, magB, magErr, blue, red) {
  const canvas = document.getElementById(id);
  const bottomH = canvas.height - 413.3;
  const cyanColor = 'rgb(28,206,245)';
  const magColor = 'rgba(238,45,238,0.85)';
  new Chart(canvas, {
    type: 'line',
    data: {
      datasets: [
        { label: 'red', data: pts(red, 0.5), borderColor: '#ff0000', borderWidth: 3.6,
          pointRadius: 0, tension: 0.25 },
        { label: 'blue', data: pts(blue, 0.5), borderColor: '#1430f5', borderWidth: 3.6,
          pointRadius: 0, tension: 0.25 },
        { label: 'magenta 2', data: pts(magB, 0.75), errs: magErr, barColor: magColor, barWidth: 1.6,
          showLine: false, pointRadius: 0 },
        { label: 'magenta 1', data: pts(magA, 0.25), errs: magErr, barColor: magColor, barWidth: 1.6,
          showLine: false, pointRadius: 0 },
        { label: 'cyan 2', data: pts(cyanB, 0.75), errs: cyanErr, barColor: cyanColor, barWidth: 2.1,
          showLine: false, pointRadius: 0 },
        { label: 'cyan 1', data: pts(cyanA, 0.25), errs: cyanErr, barColor: cyanColor, barWidth: 2.1,
          showLine: false, pointRadius: 0 }
      ]
    },
    options: {
      responsive: false, animation: false, devicePixelRatio: 1,
      layout: { padding: { top: 16.5, right: 17, left: 0, bottom: 0 } },
      plugins: { legend: { display: false }, tooltip: { enabled: false }, panelLabel: label },
      scales: {
        x: axisX('bottom', true, bottomH),
        x2: axisX('top', false, 0),
        y: axisY('left', true, 52.7),
        y2: axisY('right', false, 0)
      }
    },
    plugins: [errorBars]
  });
}

makePanel('pa', 'a)', aCyanA, aCyanB, aCyanErr, aMagA, aMagB, aMagErr, aBlue, aRed);
makePanel('pb', 'b)', bCyanA, bCyanB, bCyanErr, bMagA, bMagB, bMagErr, bBlue, bRed);
makePanel('pc', 'c)', cCyanA, cCyanB, cCyanErr, cMagA, cMagB, cMagErr, cBlue, cRed);
</script>
</body>
</html>
